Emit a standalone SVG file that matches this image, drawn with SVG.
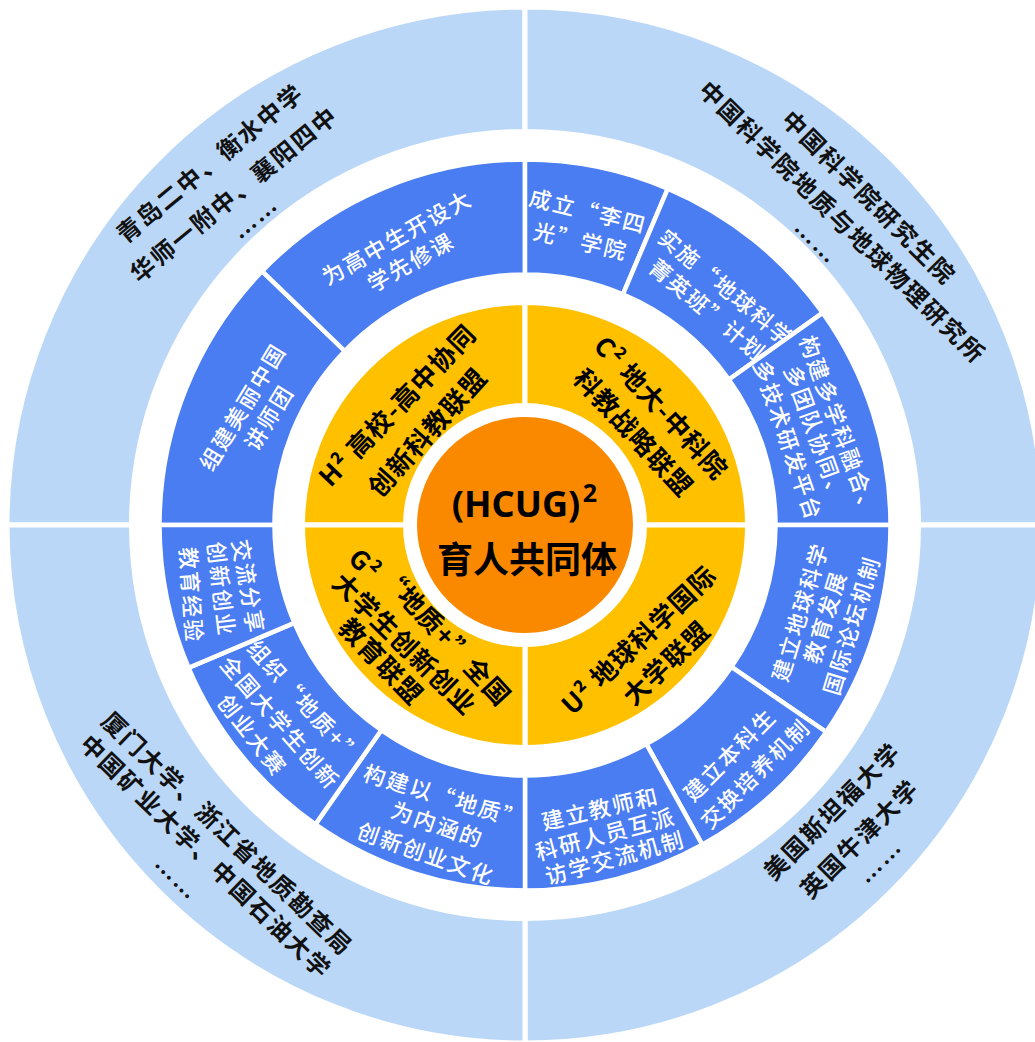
<svg xmlns="http://www.w3.org/2000/svg" width="1035" height="1042" viewBox="0 0 1035 1042">
<style>
.lb{fill:#BAD7F8;stroke:#fff;stroke-width:5}
.bl{fill:#4A7CF2;stroke:#fff;stroke-width:4.5}
.ye{fill:#FFC000;stroke:#fff;stroke-width:5}
.or{fill:#FA8900}
text{font-family:"Noto Sans CJK SC","Noto Sans",sans-serif;text-anchor:middle;dominant-baseline:central}
.to{font-size:24px;font-weight:700;fill:#111;letter-spacing:2px}
.ty{font-size:26px;font-weight:700;fill:#000;letter-spacing:1px}
.tb{font-size:22px;font-weight:500;fill:#fff;letter-spacing:2px}
</style>
<rect width="1035" height="1042" fill="#fff"/>

<g id="outer-tl">
<path class="lb" d="M7,525 A518,518 0 0 1 525,7 L525,131.5 A393.5,393.5 0 0 0 131.5,525 Z"/>
<text class="to" transform="translate(209,162) rotate(-39.5)">青岛二中、衡水中学</text>
<text class="to" transform="translate(233,193) rotate(-39.5)">华师一附中、襄阳四中</text>
<text class="to" transform="translate(258,221) rotate(-40)">……</text>
</g>
<g id="outer-tr">
<path class="lb" d="M525,7 A518,518 0 0 1 1043,525 L918.5,525 A393.5,393.5 0 0 0 525,131.5 Z"/>
<text class="to" transform="translate(870,196.5) rotate(45)">中国科学院研究生院</text>
<text class="to" transform="translate(843.5,221) rotate(44.5)">中国科学院地质与地球物理研究所</text>
<text class="to" transform="translate(813.5,245) rotate(45)">……</text>
</g>
<g id="outer-br">
<path class="lb" d="M1043,525 A518,518 0 0 1 525,1043 L525,918.5 A393.5,393.5 0 0 0 918.5,525 Z"/>
<text class="to" transform="translate(831,810) rotate(-45)">美国斯坦福大学</text>
<text class="to" transform="translate(858.5,837.5) rotate(-45)">英国牛津大学</text>
<text class="to" transform="translate(883,864) rotate(-45)">……</text>
</g>
<g id="outer-bl">
<path class="lb" d="M525,1043 A518,518 0 0 1 7,525 L131.5,525 A393.5,393.5 0 0 0 525,918.5 Z"/>
<text class="to" transform="translate(228.5,832.5) rotate(44)">厦门大学、浙江省地质勘查局</text>
<text class="to" transform="translate(207,855.5) rotate(44)">中国矿业大学、中国石油大学</text>
<text class="to" transform="translate(174,881) rotate(45)">……</text>
</g>

<g id="seg-tl-b">
<path class="bl" d="M159.5,525 A365.5,365.5 0 0 1 262.1,271.1 L344.8,351 A250.5,250.5 0 0 0 274.5,525 Z"/>
<text class="tb" transform="translate(241,406) rotate(-58.7)">组建美丽中国</text>
<text class="tb" transform="translate(267.5,416.5) rotate(-58.5)">讲师团</text>
</g>
<g id="seg-tl-a">
<path class="bl" d="M262.1,271.1 A365.5,365.5 0 0 1 525,159.5 L525,274.5 A250.5,250.5 0 0 0 344.8,351 Z"/>
<text class="tb" transform="translate(396,236) rotate(-29.5)">为高中生开设大</text>
<text class="tb" transform="translate(410,260.5) rotate(-29.5)">学先修课</text>
</g>
<g id="seg-tr-c">
<path class="bl" d="M525,159.5 A365.5,365.5 0 0 1 667.8,188.6 L622.9,294.4 A250.5,250.5 0 0 0 525,274.5 Z"/>
<text class="tb" transform="translate(588.5,209.5) rotate(14)">成立“李四</text>
<text class="tb" transform="translate(581,239.5) rotate(13)">光”学院</text>
</g>
<g id="seg-tr-d">
<path class="bl" d="M667.8,188.6 A365.5,365.5 0 0 1 822.6,312.8 L728.9,379.5 A250.5,250.5 0 0 0 622.9,294.4 Z"/>
<text class="tb" transform="translate(727,286.5) rotate(40)">实施“地球科学</text>
<text class="tb" transform="translate(708.5,308.5) rotate(40)">菁英班”计划</text>
</g>
<g id="seg-tr-e">
<path class="bl" d="M822.6,312.8 A365.5,365.5 0 0 1 890.5,525 L775.5,525 A250.5,250.5 0 0 0 728.9,379.5 Z"/>
<text class="tb" transform="translate(841,426) rotate(70)">构建多学科融合、</text>
<text class="tb" transform="translate(817.5,433.5) rotate(70)">多团队协同、</text>
<text class="tb" transform="translate(789.5,440) rotate(71)">多技术研发平台</text>
</g>
<g id="seg-br-f">
<path class="bl" d="M890.5,525 A365.5,365.5 0 0 1 826.2,732 L731.4,666.9 A250.5,250.5 0 0 0 775.5,525 Z"/>
<text class="tb" transform="translate(798.5,611.5) rotate(-73)">建立地球科学</text>
<text class="tb" transform="translate(823.5,616.5) rotate(-73)">教育发展</text>
<text class="tb" transform="translate(850,625) rotate(-73)">国际论坛机制</text>
</g>
<g id="seg-br-g">
<path class="bl" d="M826.2,732 A365.5,365.5 0 0 1 702.2,844.7 L646.4,744.1 A250.5,250.5 0 0 0 731.4,666.9 Z"/>
<text class="tb" transform="translate(728.5,753.5) rotate(-45)">建立本科生</text>
<text class="tb" transform="translate(754,772.5) rotate(-45)">交换培养机制</text>
</g>
<g id="seg-br-h">
<path class="bl" d="M702.2,844.7 A365.5,365.5 0 0 1 525,890.5 L525,775.5 A250.5,250.5 0 0 0 646.4,744.1 Z"/>
<text class="tb" transform="translate(600,807) rotate(-13)">建立教师和</text>
<text class="tb" transform="translate(605,832.5) rotate(-15)">科研人员互派</text>
<text class="tb" transform="translate(614.5,856) rotate(-15.5)">访学交流机制</text>
</g>
<g id="seg-bl-k">
<path class="bl" d="M525,890.5 A365.5,365.5 0 0 1 315.4,824.4 L381.3,730.2 A250.5,250.5 0 0 0 525,775.5 Z"/>
<text class="tb" transform="translate(445,795) rotate(17)">构建以“地质”</text>
<text class="tb" transform="translate(438,823) rotate(19)">为内涵的</text>
<text class="tb" transform="translate(426.5,852) rotate(19.5)">创新创业文化</text>
</g>
<g id="seg-bl-j">
<path class="bl" d="M315.4,824.4 A365.5,365.5 0 0 1 188.6,667.8 L294.4,622.9 A250.5,250.5 0 0 0 381.3,730.2 Z"/>
<text class="tb" transform="translate(306,701.5) rotate(48)">组织“地质+”</text>
<text class="tb" transform="translate(281.5,721.5) rotate(49)">全国大学生创新</text>
<text class="tb" transform="translate(253.5,734) rotate(52)">创业大赛</text>
</g>
<g id="seg-bl-i">
<path class="bl" d="M188.6,667.8 A365.5,365.5 0 0 1 159.5,525 L274.5,525 A250.5,250.5 0 0 0 294.4,622.9 Z"/>
<text class="tb" transform="translate(250,586.5) rotate(80)">交流分享</text>
<text class="tb" transform="translate(223,589) rotate(83)">创新创业</text>
<text class="tb" transform="translate(193,595) rotate(86)">教育经验</text>
</g>

<g id="alliance-h">
<path class="ye" d="M302.5,525 A222.5,222.5 0 0 1 525,302.5 L525,405.5 A119.5,119.5 0 0 0 405.5,525 Z"/>
<text class="ty" transform="translate(396,404) rotate(-46)">H² 高校-高中协同</text>
<text class="ty" transform="translate(426,431) rotate(-48)">创新科教联盟</text>
</g>
<g id="alliance-c">
<path class="ye" d="M525,302.5 A222.5,222.5 0 0 1 747.5,525 L644.5,525 A119.5,119.5 0 0 0 525,405.5 Z"/>
<text class="ty" transform="translate(662.5,406.5) rotate(47.5)">C² 地大-中科院</text>
<text class="ty" transform="translate(635,431.5) rotate(47.5)">科教战略联盟</text>
</g>
<g id="alliance-u">
<path class="ye" d="M747.5,525 A222.5,222.5 0 0 1 525,747.5 L525,644.5 A119.5,119.5 0 0 0 644.5,525 Z"/>
<text class="ty" transform="translate(637.5,638.5) rotate(-43.5)">U² 地球科学国际</text>
<text class="ty" transform="translate(665,661.5) rotate(-43.5)">大学联盟</text>
</g>
<g id="alliance-g">
<path class="ye" d="M525,747.5 A222.5,222.5 0 0 1 302.5,525 L405.5,525 A119.5,119.5 0 0 0 525,644.5 Z"/>
<text class="ty" transform="translate(366,563) rotate(45)">G²</text>
<text class="ty" transform="translate(446.5,635) rotate(47)">“地质+”全国</text>
<text class="ty" transform="translate(406,642.5) rotate(44.5)">大学生创新创业</text>
<text class="ty" transform="translate(382.5,660) rotate(46)">教育联盟</text>
</g>

<g id="core">
<circle class="or" cx="525" cy="525" r="108"/>
<text x="516" y="517" style="font-family:'Noto Sans','Open Sans',sans-serif;font-size:36px;font-weight:700;dominant-baseline:alphabetic" fill="#000">(HCUG)</text>
<text x="590" y="502" style="font-family:'Noto Sans','Open Sans',sans-serif;font-size:25px;font-weight:700;dominant-baseline:alphabetic" fill="#000">2</text>
<text x="527" y="557" style="font-size:36px;font-weight:700" fill="#000">育人共同体</text>
</g>
</svg>
